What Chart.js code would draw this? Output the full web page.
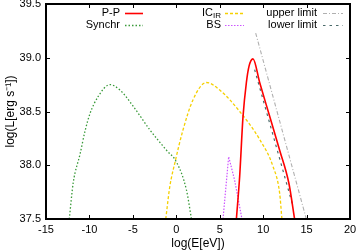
<!DOCTYPE html>
<html>
<head>
<meta charset="utf-8">
<script src="https://cdn.jsdelivr.net/npm/chart.js@4/dist/chart.umd.min.js"></script>
<style>
  html, body { margin: 0; padding: 0; background: #fff; }
  #wrap { width: 359px; height: 252px; }
</style>
</head>
<body>
<div id="wrap"><canvas id="c"></canvas></div>
<script>
// values: log(E[eV]) and log(L[erg/s])
const synchrE = [-12.32, -11.86, -11.09, -10.5, -9.94, -8.99, -7.64, -6.49, -4.97, -3.05, -1.13, 0.02, 1.17, 1.75];
const synchrL = [37.5, 37.84, 38.1, 38.32, 38.48, 38.64, 38.75, 38.70, 38.55, 38.33, 38.14, 38.03, 37.77, 37.5];

const icE = [-1.21, -0.75, -0.17, 0.78, 1.93, 3.47, 5.0, 7.3, 9.6, 11.13, 11.9, 12.16];
const icL = [37.5, 37.80, 38.02, 38.33, 38.61, 38.77, 38.70, 38.5, 38.24, 37.99, 37.74, 37.5];

const bsE = [5.38, 6.03, 6.72, 7.56];
const bsL = [37.5, 38.08, 37.86, 37.5];

const ppE = [6.92, 7.3, 7.68, 8.07, 8.37, 8.83, 9.6, 10.75, 11.9, 12.97, 13.62];
const ppL = [37.5, 37.9, 38.45, 38.77, 38.92, 38.99, 38.77, 38.455, 38.14, 37.83, 37.5];

const upperE = [9.14, 14.97];
const upperL = [39.23, 37.5];

const lowerE = [9.02, 13.43];
const lowerL = [38.89, 37.62];

const xTicks = [-15, -10, -5, 0, 5, 10, 15, 20];
const yTicks = [37.5, 38, 38.5, 39, 39.5];

const pts = (xs, ys) => xs.map((x, i) => ({x: x, y: ys[i]}));

const font = 'Liberation Sans, Arial, sans-serif';

// gnuplot-style frame with inward ticks on all four sides
const framePlugin = {
  id: 'frame',
  afterDatasetsDraw(chart) {
    const ctx = chart.ctx;
    const a = chart.chartArea;
    const xs = chart.scales.x, ys = chart.scales.y;
    ctx.save();
    ctx.strokeStyle = '#000';
    ctx.setLineDash([]);
    ctx.lineWidth = 1;
    ctx.beginPath();
    xTicks.forEach(v => {
      const px = Math.round(xs.getPixelForValue(v)) + 0.5;
      ctx.moveTo(px, a.bottom); ctx.lineTo(px, a.bottom - 4);
      ctx.moveTo(px, a.top); ctx.lineTo(px, a.top + 4);
    });
    yTicks.forEach(v => {
      const py = Math.round(ys.getPixelForValue(v)) + 0.5;
      ctx.moveTo(a.left, py); ctx.lineTo(a.left + 4, py);
      ctx.moveTo(a.right, py); ctx.lineTo(a.right - 4, py);
    });
    ctx.stroke();
    ctx.lineWidth = 2;
    ctx.strokeRect(a.left, a.top, a.right - a.left, a.bottom - a.top);
    ctx.restore();
  }
};

// key laid out like the original: text right-aligned, then the line sample
const legendPlugin = {
  id: 'key',
  afterDraw(chart) {
    const ctx = chart.ctx;
    const items = [
      {ds: 0, label: 'P-P', tx: 120, x0: 125, x1: 143, y: 13},
      {ds: 1, label: 'Synchr', tx: 120, x0: 125, x1: 143, y: 25},
      {ds: 2, label: 'IC', sub: 'IR', tx: 221, x0: 225, x1: 244, y: 13},
      {ds: 3, label: 'BS', tx: 221, x0: 225, x1: 244, y: 25},
      {ds: 4, label: 'upper limit', tx: 317, x0: 323, x1: 343, y: 13},
      {ds: 5, label: 'lower limit', tx: 317, x0: 323, x1: 343, y: 25}
    ];
    ctx.save();
    ctx.fillStyle = '#000';
    ctx.textBaseline = 'middle';
    items.forEach(it => {
      const d = chart.data.datasets[it.ds];
      ctx.textAlign = 'right';
      if (it.sub) {
        ctx.font = '8px ' + font;
        ctx.fillText(it.sub, it.tx, it.y + 3);
        const w = ctx.measureText(it.sub).width;
        ctx.font = '11px ' + font;
        ctx.fillText(it.label, it.tx - w, it.y);
      } else {
        ctx.font = '11px ' + font;
        ctx.fillText(it.label, it.tx, it.y);
      }
      ctx.strokeStyle = d.borderColor;
      ctx.lineWidth = d.borderWidth;
      ctx.setLineDash(d.borderDash || []);
      ctx.beginPath();
      ctx.moveTo(it.x0, it.y + 0.5);
      ctx.lineTo(it.x1, it.y + 0.5);
      ctx.stroke();
    });
    ctx.restore();
  }
};

const line = (data, color, width, dash, mono) => ({
  data: data,
  showLine: true,
  borderColor: color,
  backgroundColor: color,
  borderWidth: width,
  borderDash: dash,
  pointRadius: 0,
  cubicInterpolationMode: mono ? 'monotone' : 'default',
  tension: mono ? 0.4 : 0
});

new Chart(document.getElementById('c'), {
  type: 'scatter',
  data: {
    datasets: [
      line(pts(ppE, ppL), '#ff0000', 1.6, [], true),
      line(pts(synchrE, synchrL), '#3a9a3a', 1.3, [1.5, 2], true),
      line(pts(icE, icL), '#f5d000', 1.3, [3, 2], true),
      line(pts(bsE, bsL), '#cc55ff', 1.2, [1.5, 1.5], false),
      line(pts(upperE, upperL), '#b0b0b0', 1.1, [4, 2, 1, 2], false),
      line(pts(lowerE, lowerL), '#4a6a6a', 1.2, [2.5, 4], false)
    ]
  },
  options: {
    responsive: true,
    maintainAspectRatio: false,
    animation: false,
    events: [],
    layout: { padding: { top: 4, right: 9, left: 0, bottom: 0 } },
    plugins: { legend: { display: false }, tooltip: { enabled: false } },
    scales: {
      x: {
        type: 'linear', min: -15, max: 20,
        afterBuildTicks: s => { s.ticks = xTicks.map(v => ({value: v})); },
        afterFit: s => { s.height = 33; s.paddingLeft = 0; s.paddingRight = 0; },
        grid: { display: false, drawTicks: false },
        border: { display: false },
        ticks: { color: '#000', font: { family: font, size: 11 }, padding: 4, maxRotation: 0 },
        title: { display: true, text: 'log(E[eV])', color: '#000',
                 font: { family: font, size: 12 }, padding: { top: 0, bottom: 1 } }
      },
      y: {
        type: 'linear', min: 37.5, max: 39.5,
        afterBuildTicks: s => { s.ticks = yTicks.map(v => ({value: v})); },
        afterFit: s => { s.width = 46; s.paddingTop = 0; s.paddingBottom = 0; },
        grid: { display: false, drawTicks: false },
        border: { display: false },
        ticks: { color: '#000', font: { family: font, size: 11 }, padding: 5 },
        title: { display: true, text: 'log(L[erg s⁻¹])', color: '#000',
                 font: { family: font, size: 12 }, padding: { top: 3, bottom: 4 } }
      }
    }
  },
  plugins: [framePlugin, legendPlugin]
});
</script>
</body>
</html>
